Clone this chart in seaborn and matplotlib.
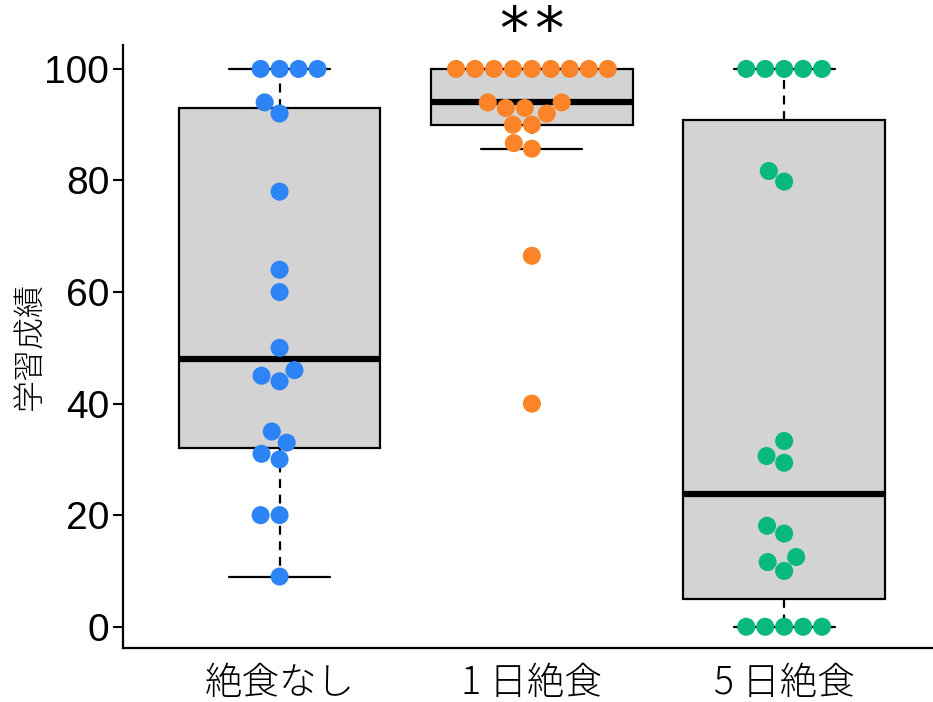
import numpy as np
import pandas as pd
import seaborn as sns
import matplotlib.pyplot as plt

# data
groups = ["絶食なし", "1 日絶食", "5 日絶食"]
no_fast = [100, 100, 100, 100, 94, 92, 78, 64, 60, 50, 46, 45, 44, 35, 33, 31, 30, 20, 20, 9]
fast_1day = [100, 100, 100, 100, 100, 100, 100, 100, 100, 94, 94, 93, 93, 92, 90, 90, 86.7, 85.7, 66.5, 40]
fast_5day = [100, 100, 100, 100, 100, 81.7, 79.8, 33.3, 30.6, 29.4, 18.1, 16.7, 12.5, 11.6, 10, 0, 0, 0, 0, 0]
colors = ["#2D84F7", "#FA8427", "#08B87C"]
ylabel = "学習成績"
sig_label = "*\u200a*"
sig_group = 1


def fivenum_stats(values, label):
    """Tukey hinges like R's boxplot."""
    v = np.sort(np.asarray(values, dtype=float))
    n = len(v)
    med = np.median(v)
    half = (n + 1) // 2
    q1 = np.median(v[:half])
    q3 = np.median(v[n - half:])
    iqr = q3 - q1
    lo = v[v >= q1 - 1.5 * iqr].min()
    hi = v[v <= q3 + 1.5 * iqr].max()
    return dict(med=med, q1=q1, q3=q3, whislo=lo, whishi=hi, fliers=[], label=label)


def main():
    df = pd.DataFrame({
        "group": np.repeat(groups, [len(no_fast), len(fast_1day), len(fast_5day)]),
        "score": no_fast + fast_1day + fast_5day,
    })

    sns.set_style("ticks")
    plt.rcParams["font.family"] = ["Liberation Sans", "Noto Sans CJK JP"]
    for key in ["text.color", "axes.labelcolor", "xtick.color", "ytick.color", "axes.edgecolor"]:
        plt.rcParams[key] = "black"

    fig, ax = plt.subplots(figsize=(9.33, 7.02), dpi=100)
    fig.subplots_adjust(left=0.132, right=1.0, bottom=0.077, top=0.936)

    stats = [fivenum_stats(vals, g) for vals, g in zip([no_fast, fast_1day, fast_5day], groups)]
    ax.bxp(stats, positions=[0, 1, 2], widths=0.8, capwidths=0.4, showfliers=False,
           patch_artist=True,
           boxprops=dict(facecolor="#D3D3D3", edgecolor="black", linewidth=1.6),
           medianprops=dict(color="black", linewidth=4.5),
           whiskerprops=dict(color="black", linewidth=1.6, linestyle=(0, (4, 3))),
           capprops=dict(color="black", linewidth=1.6))

    sns.swarmplot(data=df, x="group", y="score", hue="group", order=groups,
                  palette=colors, size=13, linewidth=0, legend=False, ax=ax, zorder=3)

    ax.set_xlim(-0.62, 2.59)
    ax.set_ylim(-3.8, 104.3)
    ax.set_yticks([0, 20, 40, 60, 80, 100])
    ax.set_xticks([0, 1, 2])
    ax.set_xticklabels(groups, family=["Noto Sans CJK JP"], fontsize=27, fontweight="light")
    ax.tick_params(axis="y", labelsize=28, length=7, width=1.5, pad=3)
    ax.tick_params(axis="x", length=0, pad=11)
    ax.set_xlabel("")
    ax.set_ylabel(ylabel, family=["Noto Sans CJK JP"], fontsize=23, fontweight="light")
    ax.yaxis.set_label_coords(-0.093, 0.5)

    sns.despine(ax=ax)
    for side in ["left", "bottom"]:
        ax.spines[side].set_linewidth(1.6)

    ax.text(sig_group, 106.6, sig_label, ha="center", va="center", fontsize=42,
            family=["DejaVu Sans"], clip_on=False)

    fig.savefig("out.png", dpi=100)
    plt.close(fig)


if __name__ == "__main__":
    main()
